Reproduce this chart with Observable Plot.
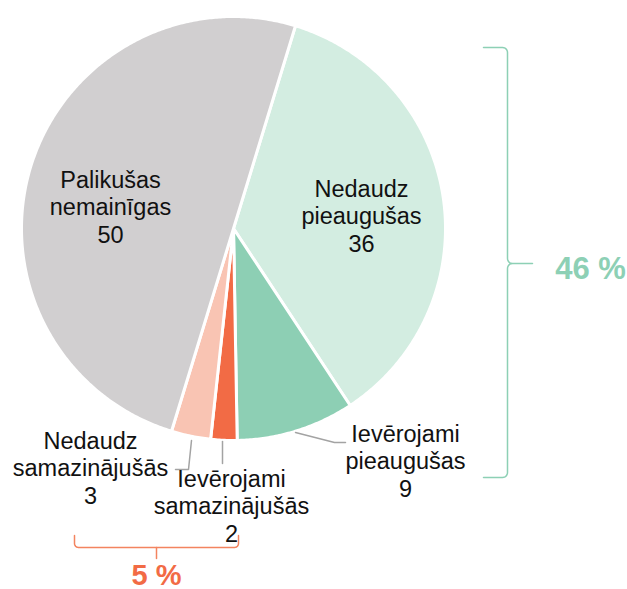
<!DOCTYPE html>
<html>
<head>
<meta charset="utf-8">
<script src="https://cdn.jsdelivr.net/npm/d3@7"></script>
<script src="https://cdn.jsdelivr.net/npm/@observablehq/plot@0.6"></script>
<style>
  html, body { margin: 0; padding: 0; background: #fff; }
  #chart svg { display: block; }
</style>
</head>
<body>
<div id="chart"></div>
<script>
// ---- data ----
const categories = ["Nedaudz pieaugušas", "Ievērojami pieaugušas", "Ievērojami samazinājušās", "Nedaudz samazinājušās", "Palikušas nemainīgas"];
const values = [36, 9, 2, 3, 50];
const labelLines = [["Nedaudz", "pieaugušas"], ["Ievērojami", "pieaugušas"], ["Ievērojami", "samazinājušās"], ["Nedaudz", "samazinājušās"], ["Palikušas", "nemainīgas"]];
const sliceColors = ["#d3ede1", "#8dcfb4", "#f26b45", "#f9c4b3", "#d1cfd0"];
const groupLabels = ["46 %", "5 %"];

// ---- layout ----
const W = 627, H = 589;
const cx = 233, cy = 228, R = 212;
const startDeg = 17;
const font = "Liberation Sans, Arial, Helvetica, sans-serif";
// label anchor (center x, last-line baseline y)
const labelPos = [[361, 251], [405, 496], [231, 541], [90, 503], [110, 242]];
const leaders = [
  [],
  [[295, 432], [334, 442], [345, 442]],
  [[222, 441], [222, 463]],
  [[191, 440], [188, 469], [175, 469]],
  []
];

// ---- pie geometry via d3.pie ----
const arcs = d3.pie().sort(null).value(d => d)
  .startAngle(startDeg * Math.PI / 180)
  .endAngle(startDeg * Math.PI / 180 + 2 * Math.PI)(values);
const slicePts = [];
arcs.forEach((a, i) => {
  slicePts.push({x: cx, y: cy, k: categories[i]});
  const n = Math.max(4, Math.ceil((a.endAngle - a.startAngle) / (Math.PI / 360)));
  for (let j = 0; j <= n; j++) {
    const t = a.startAngle + (a.endAngle - a.startAngle) * j / n;
    slicePts.push({x: cx + R * Math.sin(t), y: cy - R * Math.cos(t), k: categories[i]});
  }
});

const labels = categories.map((c, i) => ({
  x: labelPos[i][0], y: labelPos[i][1],
  text: labelLines[i].join("\n") + "\n" + values[i]
}));

const leaderPts = [];
leaders.forEach((pts, i) => pts.forEach(p => leaderPts.push({x: p[0], y: p[1], k: i})));

// curly brace (green) as a point list
function brace(x0, x1, y0, y1, ym, tip, r) {
  const pts = [];
  const arc = (ox, oy, a0, a1) => { for (let j = 0; j <= 6; j++) { const t = a0 + (a1 - a0) * j / 6; pts.push({x: ox + r * Math.cos(t), y: oy + r * Math.sin(t)}); } };
  pts.push({x: x0, y: y0});
  arc(x1 - r, y0 + r, -Math.PI / 2, 0);
  arc(x1 + r, ym - r, Math.PI, Math.PI / 2);
  pts.push({x: tip, y: ym});
  arc(x1 + r, ym + r, -Math.PI / 2, -Math.PI);
  arc(x1 - r, y1 - r, 0, Math.PI / 2);
  pts.push({x: x0, y: y1});
  return pts;
}
const greenBrace = brace(483, 507, 47, 477, 263, 532, 5);

function squareBracket(x0, x1, ytop, ybar, r) {
  const pts = [];
  const arc = (ox, oy, a0, a1) => { for (let j = 0; j <= 6; j++) { const t = a0 + (a1 - a0) * j / 6; pts.push({x: ox + r * Math.cos(t), y: oy + r * Math.sin(t)}); } };
  pts.push({x: x0, y: ytop});
  arc(x0 + r, ybar - r, Math.PI, Math.PI / 2);
  pts.push({x: x1 - r, y: ybar});
  arc(x1 - r, ybar - r, Math.PI / 2, 0);
  pts.push({x: x1, y: ytop});
  return pts;
}
const orangeBracket = squareBracket(74, 238, 535, 547, 4);
const orangeTick = [{x: 156, y: 547}, {x: 156, y: 558}];

const chart = Plot.plot({
  width: W, height: H, margin: 0,
  x: {domain: [0, W], range: [0, W], axis: null},
  y: {domain: [0, H], range: [0, H], axis: null},
  color: {domain: categories, range: sliceColors},
  style: {fontFamily: font, background: "#fff"},
  marks: [
    Plot.line(slicePts, {x: "x", y: "y", z: "k", fill: "k", stroke: "#fff", strokeWidth: 3, curve: "linear-closed", strokeLinejoin: "round"}),
    Plot.line(leaderPts, {x: "x", y: "y", z: "k", stroke: "#a3a3a3", strokeWidth: 1.5}),
    Plot.text(labels, {x: "x", y: "y", text: "text", fontSize: 23.5, lineHeight: 1.17, lineAnchor: "bottom", textAnchor: "middle", fill: "#111", fontFamily: font}),
    Plot.line(greenBrace, {x: "x", y: "y", stroke: "#8dd0b5", strokeWidth: 1.5}),
    Plot.text([groupLabels[0]], {x: 590, y: 278, text: d => d, fontSize: 31, fontWeight: "bold", lineAnchor: "bottom", fill: "#8dd0b5", fontFamily: font}),
    Plot.line(orangeBracket, {x: "x", y: "y", stroke: "#f3845f", strokeWidth: 1.5}),
    Plot.line(orangeTick, {x: "x", y: "y", stroke: "#f3845f", strokeWidth: 1.5}),
    Plot.text([groupLabels[1]], {x: 156, y: 584, text: d => d, fontSize: 29, fontWeight: "bold", lineAnchor: "bottom", fill: "#f26b45", fontFamily: font})
  ]
});
document.getElementById("chart").appendChild(chart);
</script>
</body>
</html>
